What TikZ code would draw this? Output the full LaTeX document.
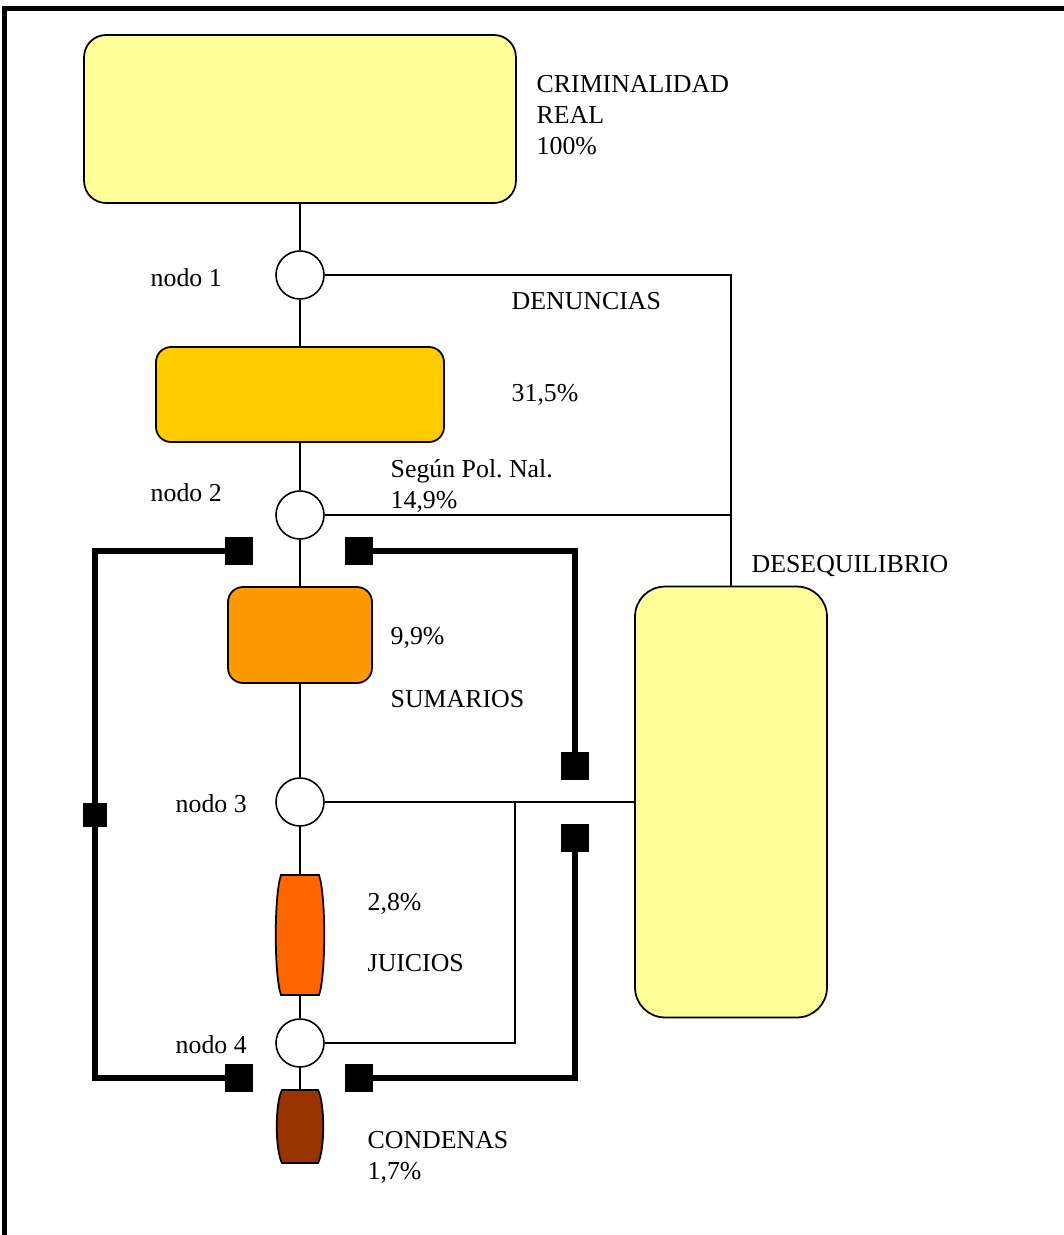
\documentclass[tikz,border=0pt]{standalone}
\usepackage{fontspec}
\setmainfont{Liberation Serif}
\frenchspacing
\definecolor{palayellow}{HTML}{FFFF99}
\definecolor{gold}{HTML}{FFCC00}
\definecolor{naranja}{HTML}{FF9900}
\definecolor{naranjaosc}{HTML}{FF6600}
\definecolor{marron}{HTML}{993300}
\tikzset{
    caja/.style = {draw = black, line width = 1pt, rounded corners = 0.3cm, inner sep = 0pt},
    nodo/.style = {circle, draw = black, fill = white, line width = 0.9pt, minimum size = 0.96cm, inner sep = 0pt},
    marca/.style = {fill = black, minimum size = 0.56cm, inner sep = 0pt},
    enlace/.style = {line width = 2.9pt, line cap = rect},
    lbl/.style = {inner sep = 0pt, anchor = base west, align = left}
}
\begin{document}
\begin{tikzpicture}[x = 0.02cm, y = -0.02cm, line width = 0.8pt, font = \fontsize{14.7}{17.6}\selectfont]
                \useasboundingbox (0, 0) rectangle (1063, 1235);
                % marco
                \draw[line width = 0.1cm] (4.5, 1250) -- (4.5, 8) -- (1075, 8);
                % cajas
                \node[caja, fill = palayellow, rounded corners = 0.44cm, minimum width = 8.64cm, minimum height = 3.36cm] (real) at (300, 119) {};
                \node[caja, fill = gold, minimum width = 5.76cm, minimum height = 1.9cm] (denuncias) at (300, 394.5) {};
                \node[caja, fill = naranja, minimum width = 2.88cm, minimum height = 1.92cm] (sumarios) at (300, 635) {};
                \node[caja, fill = palayellow, rounded corners = 0.6cm, minimum width = 3.84cm, minimum height = 8.62cm] (deseq) at (731, 802) {};
                % toneles
                \draw[fill = naranjaosc, line width = 1pt] (281, 875) -- (319, 875) .. controls (326, 895) and (326, 975) .. (319, 995) -- (281, 995) .. controls (274, 975) and (274, 895) .. cycle;
                \draw[fill = marron, line width = 1pt] (282, 1090) -- (318, 1090) .. controls (325, 1103) and (325, 1150) .. (318, 1163) -- (282, 1163) .. controls (275, 1150) and (275, 1103) .. cycle;
                \node[inner sep = 0pt, minimum width = 0.96cm, minimum height = 2.4cm] (juicios) at (300, 935) {};
                \node[inner sep = 0pt, minimum width = 0.96cm, minimum height = 1.46cm] (condenas) at (300, 1126.5) {};
                % nodos
                \foreach \i/\y in {1/275, 2/515, 3/802, 4/1043}{
                    \node[nodo] (n\i) at (300, \y) {};
                }
                \coordinate (bajada) at (515, 802);
                % conexiones
                \draw (real) -- (n1) -- (denuncias) -- (n2) -- (sumarios) -- (n3) -- (juicios) -- (n4) -- (condenas);
                \draw (n1) -| (deseq);
                \draw (n2) -- (n2 -| deseq);
                \draw (n3) -- (deseq);
                \draw (n4) -| (bajada);
                % marcas y lazos
                \node[marca] (m1) at (239, 551) {};
                \node[marca] (m2) at (359, 551) {};
                \node[marca, minimum size = 0.48cm] (m3) at (95, 815) {};
                \node[marca] (m4) at (575, 766) {};
                \node[marca] (m5) at (575, 838) {};
                \node[marca] (m6) at (239, 1078) {};
                \node[marca] (m7) at (359, 1078) {};
                \draw[enlace] (m1) -| (m3) |- (m6);
                \draw[enlace] (m2) -| (m4);
                \draw[enlace] (m5) |- (m7);
                % textos
                \node[lbl] (tReal) at (536, 154.3) {CRIMINALIDAD\\REAL\\100\%};
                \node[lbl] (tN1) at (150, 286) {nodo 1};
                \node[lbl] (tDen) at (511, 309) {DENUNCIAS};
                \node[lbl] (tDenP) at (511, 401) {31,5\%};
                \node[lbl] (tN2) at (150, 501.5) {nodo 2};
                \node[lbl] (tPol) at (390, 508.3) {Según Pol. Nal.\\14,9\%};
                \node[lbl] (tDes) at (751, 572) {DESEQUILIBRIO};
                \node[lbl] (tSumP) at (390, 644) {9,9\%};
                \node[lbl] (tSum) at (390, 707) {SUMARIOS};
                \node[lbl] (tN3) at (175, 812) {nodo 3};
                \node[lbl] (tJuiP) at (367, 910) {2,8\%};
                \node[lbl] (tJui) at (367, 971) {JUICIOS};
                \node[lbl] (tN4) at (175, 1053) {nodo 4};
                \node[lbl] (tCon) at (367, 1179) {CONDENAS\\1,7\%};
            \end{tikzpicture}
\end{document}
